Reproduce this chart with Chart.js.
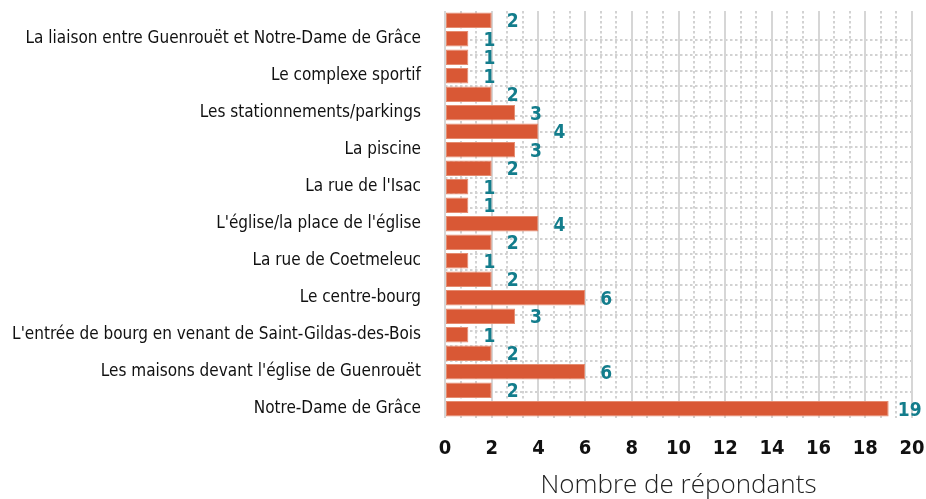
<!DOCTYPE html>
<html>
<head>
<meta charset="utf-8">
<script src="https://cdn.jsdelivr.net/npm/chart.js@4.4.0/dist/chart.umd.min.js"></script>
<style>
    html, body { margin: 0; padding: 0; background: #ffffff; }
    #wrap { width: 926px; height: 499px; position: relative; }
</style>
</head>
<body>
<div id="wrap"><canvas id="bugChart"></canvas></div>
<script>
// Categories, top to bottom (only every other label is printed in the original chart)
const categories = [
    '', 'La liaison entre Guenrouët et Notre-Dame de Grâce',
    '', 'Le complexe sportif',
    '', 'Les stationnements/parkings',
    '', 'La piscine',
    '', "La rue de l'Isac",
    '', "L'église/la place de l'église",
    '', 'La rue de Coetmeleuc',
    '', 'Le centre-bourg',
    '', "L'entrée de bourg en venant de Saint-Gildas-des-Bois",
    '', "Les maisons devant l'église de Guenrouët",
    '', 'Notre-Dame de Grâce'
];
const respondents = [2, 1, 1, 1, 2, 3, 4, 3, 2, 1, 1, 4, 2, 1, 2, 6, 3, 1, 2, 6, 2, 19];
const xTicks = [0, 2, 4, 6, 8, 10, 12, 14, 16, 18, 20];
const axisTitle = 'Nombre de répondants';

const narrowFont = '"DejaVu Sans Condensed", "Liberation Sans Narrow", sans-serif';
const barColor = '#d95835';
const labelColor = '#137d8c';
const noColor = 'rgba(0,0,0,0)';

// Draw the value next to each bar
const valueLabels = {
    id: 'valueLabels',
    afterDatasetsDraw(chart) {
        const ctx = chart.ctx;
        const meta = chart.getDatasetMeta(0);
        ctx.save();
        ctx.font = 'bold 19px ' + narrowFont;
        ctx.fillStyle = labelColor;
        ctx.textAlign = 'center';
        ctx.textBaseline = 'middle';
        meta.data.forEach((bar, i) => {
            ctx.fillText(String(respondents[i]), bar.x + 21, bar.y + 2);
        });
        ctx.restore();
    }
};

const ctx = document.getElementById('bugChart').getContext('2d');
window.myChart = new Chart(ctx, {
    type: 'bar',
    data: {
        labels: categories,
        datasets: [{
            label: axisTitle,
            data: respondents,
            backgroundColor: barColor,
            borderColor: '#e58c70',
            borderWidth: 1,
            borderSkipped: false,
            barPercentage: 0.84,
            categoryPercentage: 1
        }]
    },
    options: {
        indexAxis: 'y',
        responsive: true,
        maintainAspectRatio: false,
        animation: false,
        layout: { padding: { left: 0, right: 14, top: 11, bottom: 0 } },
        plugins: {
            legend: { display: false },
            tooltip: { enabled: false }
        },
        scales: {
            x: {
                type: 'linear',
                min: 0,
                max: 20,
                afterBuildTicks: axis => { axis.ticks = xTicks.map(v => ({ value: v })); },
                afterFit: scale => { scale.height = 81; },
                border: { display: false },
                grid: { color: '#d6d6d6', lineWidth: 2, drawTicks: true, tickLength: 21, tickColor: noColor, z: -1 },
                ticks: {
                    padding: 0,
                    color: '#111111',
                    font: { family: narrowFont, size: 20, weight: 'bold', lineHeight: 1 }
                },
                title: {
                    display: true,
                    text: axisTitle,
                    color: '#222222',
                    padding: 0,
                    font: { family: '"Open Sans", Lato, sans-serif', size: 26, weight: '300', lineHeight: 1 }
                }
            },
            // minor dotted verticals
            x2: {
                type: 'linear',
                position: 'top',
                min: 0,
                max: 30,
                afterFit: scale => { scale.height = 0; },
                border: { display: false, dash: [2.5, 2.5] },
                grid: {
                    color: c => (c.tick.value % 3 === 0 ? noColor : '#d2d2d2'),
                    lineWidth: 2,
                    drawTicks: false,
                    z: -2
                },
                ticks: { display: false, stepSize: 1 }
            },
            y: {
                afterFit: scale => { scale.width = 445; },
                border: { display: false },
                grid: { color: noColor, drawOnChartArea: false, drawTicks: true, tickLength: 24, tickColor: noColor },
                ticks: {
                    autoSkip: false,
                    padding: 0,
                    color: '#111111',
                    font: { family: narrowFont, size: 17, lineHeight: 1 }
                }
            },
            // dotted horizontals, every 16px
            y2: {
                type: 'linear',
                position: 'right',
                reverse: true,
                min: -0.8125,
                max: 24.625,
                afterFit: scale => { scale.width = 0; },
                afterBuildTicks: axis => { axis.ticks = axis.ticks.filter(t => Number.isInteger(t.value)); },
                border: { display: false, dash: [2.5, 2.5] },
                grid: { color: '#d2d2d2', lineWidth: 2, drawTicks: false, z: -2 },
                ticks: { display: false, stepSize: 1 }
            }
        }
    },
    plugins: [valueLabels]
});
</script>
</body>
</html>
